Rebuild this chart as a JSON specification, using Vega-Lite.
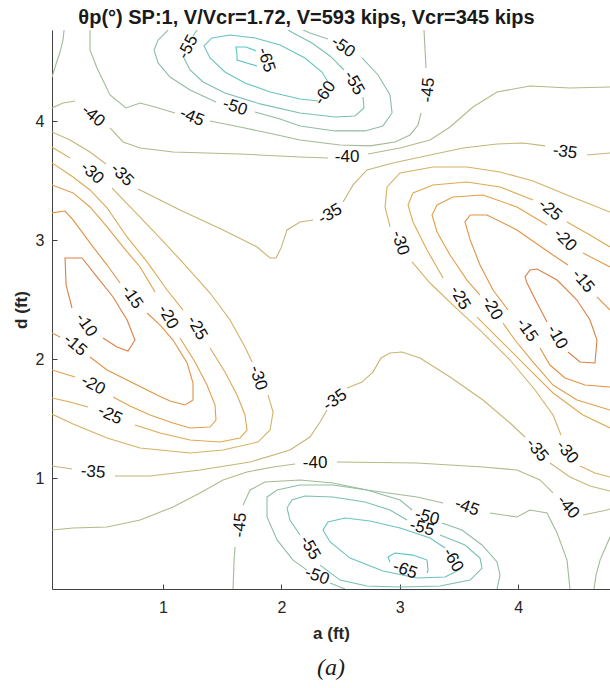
{
"$schema":"https://vega.github.io/schema/vega-lite/v6.json",
"width":558,"height":559,
"autosize":{"type":"none"},
"padding":{"left":52,"top":30,"right":0,"bottom":99},
"background":"white",
"title":{"text":"(a)","orient":"bottom","font":"Liberation Serif","fontStyle":"italic","fontWeight":"normal","fontSize":24,"color":"#1a1a1a","offset":15},
"config":{"view":{"stroke":null},"axis":{"grid":false,"domainColor":"#404040","tickColor":"#404040","labelColor":"#262626","labelFont":"Liberation Sans","labelFontSize":16,"titleFont":"Liberation Sans","titleFontSize":17,"titleFontWeight":"bold","titleColor":"#262626","tickSize":-5}},
"datasets":{
"lines":[
{"s":"c45","l":-45,"o":0,"a":0.063,"d":4.372},{"s":"c45","l":-45,"o":1,"a":0.097,"d":4.481},{"s":"c45","l":-45,"o":2,"a":0.131,"d":4.582},{"s":"c45","l":-45,"o":3,"a":0.156,"d":4.683},{"s":"c45","l":-45,"o":4,"a":0.165,"d":4.767},
{"s":"m45A","l":-45,"o":0,"a":0.384,"d":4.767},{"s":"m45A","l":-45,"o":1,"a":0.384,"d":4.599},{"s":"m45A","l":-45,"o":2,"a":0.443,"d":4.448},{"s":"m45A","l":-45,"o":3,"a":0.553,"d":4.221},{"s":"m45A","l":-45,"o":4,"a":0.688,"d":4.112},{"s":"m45A","l":-45,"o":5,"a":0.807,"d":4.154},{"s":"m45A","l":-45,"o":6,"a":0.933,"d":4.120},{"s":"m45A","l":-45,"o":7,"a":1.102,"d":4.070},
{"s":"m45B","l":-45,"o":0,"a":1.398,"d":4.003},{"s":"m45B","l":-45,"o":1,"a":1.651,"d":3.952},{"s":"m45B","l":-45,"o":2,"a":1.930,"d":3.893},{"s":"m45B","l":-45,"o":3,"a":2.158,"d":3.843},{"s":"m45B","l":-45,"o":4,"a":2.496,"d":3.801},{"s":"m45B","l":-45,"o":5,"a":2.749,"d":3.793},{"s":"m45B","l":-45,"o":6,"a":2.960,"d":3.826},{"s":"m45B","l":-45,"o":7,"a":3.087,"d":3.885},{"s":"m45B","l":-45,"o":8,"a":3.155,"d":3.969},{"s":"m45B","l":-45,"o":9,"a":3.180,"d":4.070},
{"s":"m45C","l":-45,"o":0,"a":3.222,"d":4.448},{"s":"m45C","l":-45,"o":1,"a":3.214,"d":4.599},{"s":"m45C","l":-45,"o":2,"a":3.205,"d":4.767},
{"s":"m50A","l":-50,"o":0,"a":1.043,"d":4.767},{"s":"m50A","l":-50,"o":1,"a":0.959,"d":4.683},{"s":"m50A","l":-50,"o":2,"a":0.925,"d":4.599},{"s":"m50A","l":-50,"o":3,"a":0.959,"d":4.490},{"s":"m50A","l":-50,"o":4,"a":1.060,"d":4.372},{"s":"m50A","l":-50,"o":5,"a":1.229,"d":4.263},{"s":"m50A","l":-50,"o":6,"a":1.448,"d":4.162},
{"s":"m50B","l":-50,"o":0,"a":1.778,"d":4.078},{"s":"m50B","l":-50,"o":1,"a":1.989,"d":4.019},{"s":"m50B","l":-50,"o":2,"a":2.158,"d":3.961},{"s":"m50B","l":-50,"o":3,"a":2.453,"d":3.919},{"s":"m50B","l":-50,"o":4,"a":2.706,"d":3.919},{"s":"m50B","l":-50,"o":5,"a":2.858,"d":3.961},{"s":"m50B","l":-50,"o":6,"a":2.935,"d":4.070},{"s":"m50B","l":-50,"o":7,"a":2.918,"d":4.221},{"s":"m50B","l":-50,"o":8,"a":2.817,"d":4.389},{"s":"m50B","l":-50,"o":9,"a":2.682,"d":4.532},
{"s":"m50C","l":-50,"o":0,"a":2.394,"d":4.692},{"s":"m50C","l":-50,"o":1,"a":2.242,"d":4.742},{"s":"m50C","l":-50,"o":2,"a":2.183,"d":4.767},
{"s":"m55A","l":-55,"o":0,"a":1.288,"d":4.767},{"s":"m55A","l":-55,"o":1,"a":1.254,"d":4.717},
{"s":"m55B","l":-55,"o":0,"a":1.178,"d":4.532},{"s":"m55B","l":-55,"o":1,"a":1.229,"d":4.431},{"s":"m55B","l":-55,"o":2,"a":1.339,"d":4.330},{"s":"m55B","l":-55,"o":3,"a":1.524,"d":4.238},{"s":"m55B","l":-55,"o":4,"a":1.820,"d":4.146},{"s":"m55B","l":-55,"o":5,"a":2.158,"d":4.070},{"s":"m55B","l":-55,"o":6,"a":2.453,"d":4.036},{"s":"m55B","l":-55,"o":7,"a":2.622,"d":4.045},{"s":"m55B","l":-55,"o":8,"a":2.698,"d":4.112},{"s":"m55B","l":-55,"o":9,"a":2.690,"d":4.204},
{"s":"m55C","l":-55,"o":0,"a":2.530,"d":4.431},{"s":"m55C","l":-55,"o":1,"a":2.411,"d":4.549},{"s":"m55C","l":-55,"o":2,"a":2.259,"d":4.658},{"s":"m55C","l":-55,"o":3,"a":2.116,"d":4.734},{"s":"m55C","l":-55,"o":4,"a":2.057,"d":4.767},
{"s":"m60","l":-60,"o":0,"a":2.310,"d":4.171},{"s":"m60","l":-60,"o":1,"a":2.158,"d":4.187},{"s":"m60","l":-60,"o":2,"a":1.905,"d":4.246},{"s":"m60","l":-60,"o":3,"a":1.693,"d":4.322},{"s":"m60","l":-60,"o":4,"a":1.524,"d":4.414},{"s":"m60","l":-60,"o":5,"a":1.398,"d":4.532},{"s":"m60","l":-60,"o":6,"a":1.347,"d":4.633},{"s":"m60","l":-60,"o":7,"a":1.414,"d":4.700},{"s":"m60","l":-60,"o":8,"a":1.567,"d":4.725},{"s":"m60","l":-60,"o":9,"a":1.778,"d":4.700},{"s":"m60","l":-60,"o":10,"a":1.989,"d":4.641},{"s":"m60","l":-60,"o":11,"a":2.200,"d":4.532},{"s":"m60","l":-60,"o":12,"a":2.343,"d":4.414},{"s":"m60","l":-60,"o":13,"a":2.394,"d":4.330},
{"s":"m65","l":-65,"o":0,"a":1.786,"d":4.591},{"s":"m65","l":-65,"o":1,"a":1.702,"d":4.624},{"s":"m65","l":-65,"o":2,"a":1.617,"d":4.624},{"s":"m65","l":-65,"o":3,"a":1.626,"d":4.557},{"s":"m65","l":-65,"o":4,"a":1.626,"d":4.515},{"s":"m65","l":-65,"o":5,"a":1.736,"d":4.482},{"s":"m65","l":-65,"o":6,"a":1.795,"d":4.465},
{"s":"m40A","l":-40,"o":0,"a":0.063,"d":4.112},{"s":"m40A","l":-40,"o":1,"a":0.156,"d":4.154},{"s":"m40A","l":-40,"o":2,"a":0.258,"d":4.171},
{"s":"m40B","l":-40,"o":0,"a":0.553,"d":3.944},{"s":"m40B","l":-40,"o":1,"a":0.663,"d":3.826},{"s":"m40B","l":-40,"o":2,"a":0.807,"d":3.776},{"s":"m40B","l":-40,"o":3,"a":1.085,"d":3.742},{"s":"m40B","l":-40,"o":4,"a":1.651,"d":3.725},{"s":"m40B","l":-40,"o":5,"a":2.158,"d":3.700},{"s":"m40B","l":-40,"o":6,"a":2.394,"d":3.692},
{"s":"m40C","l":-40,"o":0,"a":2.732,"d":3.725},{"s":"m40C","l":-40,"o":1,"a":3.003,"d":3.776},{"s":"m40C","l":-40,"o":2,"a":3.256,"d":3.843},{"s":"m40C","l":-40,"o":3,"a":3.425,"d":3.952},{"s":"m40C","l":-40,"o":4,"a":3.619,"d":4.120},{"s":"m40C","l":-40,"o":5,"a":3.822,"d":4.246},{"s":"m40C","l":-40,"o":6,"a":4.100,"d":4.297},{"s":"m40C","l":-40,"o":7,"a":4.438,"d":4.280},{"s":"m40C","l":-40,"o":8,"a":4.776,"d":4.288},
{"s":"m35A","l":-35,"o":0,"a":0.063,"d":3.910},{"s":"m35A","l":-35,"o":1,"a":0.215,"d":3.843},{"s":"m35A","l":-35,"o":2,"a":0.384,"d":3.742},{"s":"m35A","l":-35,"o":3,"a":0.519,"d":3.641},
{"s":"m35B","l":-35,"o":0,"a":0.790,"d":3.431},{"s":"m35B","l":-35,"o":1,"a":0.976,"d":3.339},{"s":"m35B","l":-35,"o":2,"a":1.144,"d":3.255},{"s":"m35B","l":-35,"o":3,"a":1.508,"d":3.087},{"s":"m35B","l":-35,"o":4,"a":1.795,"d":2.944},{"s":"m35B","l":-35,"o":5,"a":1.905,"d":2.851},{"s":"m35B","l":-35,"o":6,"a":1.955,"d":2.851},{"s":"m35B","l":-35,"o":7,"a":1.998,"d":2.936},{"s":"m35B","l":-35,"o":8,"a":2.048,"d":3.087},{"s":"m35B","l":-35,"o":9,"a":2.158,"d":3.154},{"s":"m35B","l":-35,"o":10,"a":2.268,"d":3.171},
{"s":"m35C","l":-35,"o":0,"a":2.521,"d":3.322},{"s":"m35C","l":-35,"o":1,"a":2.606,"d":3.465},{"s":"m35C","l":-35,"o":2,"a":2.723,"d":3.591},{"s":"m35C","l":-35,"o":3,"a":2.943,"d":3.650},{"s":"m35C","l":-35,"o":4,"a":3.256,"d":3.717},{"s":"m35C","l":-35,"o":5,"a":3.535,"d":3.776},{"s":"m35C","l":-35,"o":6,"a":3.822,"d":3.809},{"s":"m35C","l":-35,"o":7,"a":4.041,"d":3.818},{"s":"m35C","l":-35,"o":8,"a":4.227,"d":3.793},
{"s":"m35D","l":-35,"o":0,"a":4.582,"d":3.717},{"s":"m35D","l":-35,"o":1,"a":4.776,"d":3.734},
{"s":"L10","l":-10,"o":0,"a":0.232,"d":2.431},{"s":"L10","l":-10,"o":1,"a":0.182,"d":2.624},{"s":"L10","l":-10,"o":2,"a":0.173,"d":2.851},{"s":"L10","l":-10,"o":3,"a":0.317,"d":2.851},{"s":"L10","l":-10,"o":4,"a":0.443,"d":2.692},{"s":"L10","l":-10,"o":5,"a":0.579,"d":2.524},{"s":"L10","l":-10,"o":6,"a":0.697,"d":2.330},{"s":"L10","l":-10,"o":7,"a":0.764,"d":2.162},{"s":"L10","l":-10,"o":8,"a":0.705,"d":2.070},{"s":"L10","l":-10,"o":9,"a":0.612,"d":2.103},{"s":"L10","l":-10,"o":10,"a":0.494,"d":2.179},
{"s":"L15A","l":-15,"o":0,"a":0.063,"d":3.230},{"s":"L15A","l":-15,"o":1,"a":0.173,"d":3.246},{"s":"L15A","l":-15,"o":2,"a":0.241,"d":3.171},{"s":"L15A","l":-15,"o":3,"a":0.384,"d":2.978},{"s":"L15A","l":-15,"o":4,"a":0.528,"d":2.792},{"s":"L15A","l":-15,"o":5,"a":0.638,"d":2.641},
{"s":"L15B","l":-15,"o":0,"a":0.866,"d":2.389},{"s":"L15B","l":-15,"o":1,"a":0.976,"d":2.288},{"s":"L15B","l":-15,"o":2,"a":1.085,"d":2.162},{"s":"L15B","l":-15,"o":3,"a":1.204,"d":1.969},{"s":"L15B","l":-15,"o":4,"a":1.254,"d":1.801},{"s":"L15B","l":-15,"o":5,"a":1.254,"d":1.658},{"s":"L15B","l":-15,"o":6,"a":1.187,"d":1.616},{"s":"L15B","l":-15,"o":7,"a":1.060,"d":1.650},{"s":"L15B","l":-15,"o":8,"a":0.950,"d":1.700},{"s":"L15B","l":-15,"o":9,"a":0.747,"d":1.801},{"s":"L15B","l":-15,"o":10,"a":0.528,"d":1.910},{"s":"L15B","l":-15,"o":11,"a":0.384,"d":2.019},
{"s":"L15C","l":-15,"o":0,"a":0.131,"d":2.187},{"s":"L15C","l":-15,"o":1,"a":0.063,"d":2.221},
{"s":"L20A","l":-20,"o":0,"a":0.063,"d":3.465},{"s":"L20A","l":-20,"o":1,"a":0.241,"d":3.398},{"s":"L20A","l":-20,"o":2,"a":0.384,"d":3.280},{"s":"L20A","l":-20,"o":3,"a":0.528,"d":3.112},{"s":"L20A","l":-20,"o":4,"a":0.663,"d":2.944},{"s":"L20A","l":-20,"o":5,"a":0.807,"d":2.776},{"s":"L20A","l":-20,"o":6,"a":0.933,"d":2.566},
{"s":"L20B","l":-20,"o":0,"a":1.144,"d":2.179},{"s":"L20B","l":-20,"o":1,"a":1.271,"d":1.977},{"s":"L20B","l":-20,"o":2,"a":1.372,"d":1.784},{"s":"L20B","l":-20,"o":3,"a":1.440,"d":1.616},{"s":"L20B","l":-20,"o":4,"a":1.448,"d":1.490},{"s":"L20B","l":-20,"o":5,"a":1.398,"d":1.431},{"s":"L20B","l":-20,"o":6,"a":1.229,"d":1.423},{"s":"L20B","l":-20,"o":7,"a":1.085,"d":1.465},{"s":"L20B","l":-20,"o":8,"a":0.891,"d":1.532},{"s":"L20B","l":-20,"o":9,"a":0.722,"d":1.608},{"s":"L20B","l":-20,"o":10,"a":0.579,"d":1.683},
{"s":"L20C","l":-20,"o":0,"a":0.258,"d":1.851},{"s":"L20C","l":-20,"o":1,"a":0.063,"d":1.910},
{"s":"L25A","l":-25,"o":0,"a":0.063,"d":3.650},{"s":"L25A","l":-25,"o":1,"a":0.241,"d":3.532},{"s":"L25A","l":-25,"o":2,"a":0.384,"d":3.423},{"s":"L25A","l":-25,"o":3,"a":0.528,"d":3.272},{"s":"L25A","l":-25,"o":4,"a":0.697,"d":3.028},{"s":"L25A","l":-25,"o":5,"a":0.866,"d":2.818},{"s":"L25A","l":-25,"o":6,"a":1.035,"d":2.582},{"s":"L25A","l":-25,"o":7,"a":1.170,"d":2.414},
{"s":"L25B","l":-25,"o":0,"a":1.398,"d":2.095},{"s":"L25B","l":-25,"o":1,"a":1.524,"d":1.893},{"s":"L25B","l":-25,"o":2,"a":1.626,"d":1.700},{"s":"L25B","l":-25,"o":3,"a":1.693,"d":1.532},{"s":"L25B","l":-25,"o":4,"a":1.710,"d":1.406},{"s":"L25B","l":-25,"o":5,"a":1.651,"d":1.339},{"s":"L25B","l":-25,"o":6,"a":1.482,"d":1.305},{"s":"L25B","l":-25,"o":7,"a":1.229,"d":1.322},{"s":"L25B","l":-25,"o":8,"a":0.976,"d":1.381},{"s":"L25B","l":-25,"o":9,"a":0.764,"d":1.448},
{"s":"L25C","l":-25,"o":0,"a":0.367,"d":1.599},{"s":"L25C","l":-25,"o":1,"a":0.215,"d":1.641},{"s":"L25C","l":-25,"o":2,"a":0.063,"d":1.675},
{"s":"L30A","l":-30,"o":0,"a":0.063,"d":3.784},{"s":"L30A","l":-30,"o":1,"a":0.215,"d":3.692},
{"s":"L30B","l":-30,"o":0,"a":0.570,"d":3.439},{"s":"L30B","l":-30,"o":1,"a":0.764,"d":3.238},{"s":"L30B","l":-30,"o":2,"a":0.976,"d":3.019},{"s":"L30B","l":-30,"o":3,"a":1.187,"d":2.792},{"s":"L30B","l":-30,"o":4,"a":1.398,"d":2.557},{"s":"L30B","l":-30,"o":5,"a":1.567,"d":2.330},{"s":"L30B","l":-30,"o":6,"a":1.693,"d":2.103},{"s":"L30B","l":-30,"o":7,"a":1.753,"d":1.977},
{"s":"L30C","l":-30,"o":0,"a":1.888,"d":1.700},{"s":"L30C","l":-30,"o":1,"a":1.930,"d":1.557},{"s":"L30C","l":-30,"o":2,"a":1.905,"d":1.406},{"s":"L30C","l":-30,"o":3,"a":1.803,"d":1.305},{"s":"L30C","l":-30,"o":4,"a":1.508,"d":1.238},{"s":"L30C","l":-30,"o":5,"a":1.229,"d":1.213},{"s":"L30C","l":-30,"o":6,"a":0.807,"d":1.255},{"s":"L30C","l":-30,"o":7,"a":0.528,"d":1.339},{"s":"L30C","l":-30,"o":8,"a":0.241,"d":1.456},{"s":"L30C","l":-30,"o":9,"a":0.063,"d":1.540},
{"s":"n35A","l":-35,"o":0,"a":0.063,"d":1.103},{"s":"n35A","l":-35,"o":1,"a":0.232,"d":1.078},
{"s":"n35B","l":-35,"o":0,"a":0.595,"d":1.019},{"s":"n35B","l":-35,"o":1,"a":0.891,"d":1.019},{"s":"n35B","l":-35,"o":2,"a":1.313,"d":1.070},{"s":"n35B","l":-35,"o":3,"a":1.736,"d":1.137},{"s":"n35B","l":-35,"o":4,"a":2.073,"d":1.238},{"s":"n35B","l":-35,"o":5,"a":2.242,"d":1.347},{"s":"n35B","l":-35,"o":6,"a":2.327,"d":1.473},{"s":"n35B","l":-35,"o":7,"a":2.386,"d":1.574},
{"s":"n35C","l":-35,"o":0,"a":2.555,"d":1.759},{"s":"n35C","l":-35,"o":1,"a":2.682,"d":1.809},{"s":"n35C","l":-35,"o":2,"a":2.774,"d":1.893},{"s":"n35C","l":-35,"o":3,"a":2.842,"d":2.011},{"s":"n35C","l":-35,"o":4,"a":2.918,"d":2.053},{"s":"n35C","l":-35,"o":5,"a":3.019,"d":2.061},{"s":"n35C","l":-35,"o":6,"a":3.171,"d":2.011},{"s":"n35C","l":-35,"o":7,"a":3.425,"d":1.851},{"s":"n35C","l":-35,"o":8,"a":3.703,"d":1.658},{"s":"n35C","l":-35,"o":9,"a":3.932,"d":1.465},{"s":"n35C","l":-35,"o":10,"a":4.058,"d":1.347},
{"s":"n35D","l":-35,"o":0,"a":4.269,"d":1.129},{"s":"n35D","l":-35,"o":1,"a":4.438,"d":1.011},{"s":"n35D","l":-35,"o":2,"a":4.607,"d":0.935},{"s":"n35D","l":-35,"o":3,"a":4.776,"d":0.893},
{"s":"n40A","l":-40,"o":0,"a":0.063,"d":0.566},{"s":"n40A","l":-40,"o":1,"a":0.241,"d":0.582},{"s":"n40A","l":-40,"o":2,"a":0.528,"d":0.591},{"s":"n40A","l":-40,"o":3,"a":0.807,"d":0.650},{"s":"n40A","l":-40,"o":4,"a":1.085,"d":0.759},{"s":"n40A","l":-40,"o":5,"a":1.313,"d":0.877},{"s":"n40A","l":-40,"o":6,"a":1.508,"d":0.986},{"s":"n40A","l":-40,"o":7,"a":1.710,"d":1.053},{"s":"n40A","l":-40,"o":8,"a":1.930,"d":1.095},{"s":"n40A","l":-40,"o":9,"a":2.116,"d":1.120},
{"s":"n40B","l":-40,"o":0,"a":2.470,"d":1.137},{"s":"n40B","l":-40,"o":1,"a":3.146,"d":1.129},{"s":"n40B","l":-40,"o":2,"a":3.703,"d":1.095},{"s":"n40B","l":-40,"o":3,"a":3.990,"d":1.070},{"s":"n40B","l":-40,"o":4,"a":4.185,"d":0.986},{"s":"n40B","l":-40,"o":5,"a":4.295,"d":0.877},
{"s":"n40C","l":-40,"o":0,"a":4.548,"d":0.692},{"s":"n40C","l":-40,"o":1,"a":4.751,"d":0.734},{"s":"n40C","l":-40,"o":2,"a":4.776,"d":0.742},
{"s":"n45A","l":-45,"o":0,"a":1.592,"d":0.070},{"s":"n45A","l":-45,"o":1,"a":1.601,"d":0.313},{"s":"n45A","l":-45,"o":2,"a":1.609,"d":0.423},
{"s":"n45B","l":-45,"o":0,"a":1.677,"d":0.776},{"s":"n45B","l":-45,"o":1,"a":1.736,"d":0.902},{"s":"n45B","l":-45,"o":2,"a":1.862,"d":0.969},{"s":"n45B","l":-45,"o":3,"a":2.158,"d":0.986},{"s":"n45B","l":-45,"o":4,"a":2.437,"d":0.961},{"s":"n45B","l":-45,"o":5,"a":2.723,"d":0.902},{"s":"n45B","l":-45,"o":6,"a":3.146,"d":0.843},{"s":"n45B","l":-45,"o":7,"a":3.366,"d":0.793},
{"s":"n45C","l":-45,"o":0,"a":3.762,"d":0.709},{"s":"n45C","l":-45,"o":1,"a":3.990,"d":0.675},{"s":"n45C","l":-45,"o":2,"a":4.100,"d":0.734},{"s":"n45C","l":-45,"o":3,"a":4.244,"d":0.709},{"s":"n45C","l":-45,"o":4,"a":4.329,"d":0.541},{"s":"n45C","l":-45,"o":5,"a":4.413,"d":0.313},{"s":"n45C","l":-45,"o":6,"a":4.438,"d":0.070},
{"s":"d45","l":-45,"o":0,"a":4.776,"d":0.507},{"s":"d45","l":-45,"o":1,"a":4.692,"d":0.313},{"s":"d45","l":-45,"o":2,"a":4.658,"d":0.187},{"s":"d45","l":-45,"o":3,"a":4.641,"d":0.070},
{"s":"b65","l":-65,"o":0,"a":2.918,"d":0.297},{"s":"b65","l":-65,"o":1,"a":2.901,"d":0.339},{"s":"b65","l":-65,"o":2,"a":2.960,"d":0.372},{"s":"b65","l":-65,"o":3,"a":3.112,"d":0.355},{"s":"b65","l":-65,"o":4,"a":3.231,"d":0.313},{"s":"b65","l":-65,"o":5,"a":3.239,"d":0.229},{"s":"b65","l":-65,"o":6,"a":3.231,"d":0.204},
{"s":"b60","l":-60,"o":0,"a":3.484,"d":0.221},{"s":"b60","l":-60,"o":1,"a":3.383,"d":0.171},{"s":"b60","l":-60,"o":2,"a":3.146,"d":0.162},{"s":"b60","l":-60,"o":3,"a":2.859,"d":0.221},{"s":"b60","l":-60,"o":4,"a":2.580,"d":0.330},{"s":"b60","l":-60,"o":5,"a":2.412,"d":0.465},{"s":"b60","l":-60,"o":6,"a":2.352,"d":0.566},{"s":"b60","l":-60,"o":7,"a":2.394,"d":0.633},{"s":"b60","l":-60,"o":8,"a":2.538,"d":0.666},{"s":"b60","l":-60,"o":9,"a":2.749,"d":0.641},{"s":"b60","l":-60,"o":10,"a":3.003,"d":0.582},{"s":"b60","l":-60,"o":11,"a":3.256,"d":0.498},{"s":"b60","l":-60,"o":12,"a":3.383,"d":0.414},
{"s":"b55A","l":-55,"o":0,"a":2.158,"d":0.524},{"s":"b55A","l":-55,"o":1,"a":2.073,"d":0.650},{"s":"b55A","l":-55,"o":2,"a":2.048,"d":0.750},{"s":"b55A","l":-55,"o":3,"a":2.090,"d":0.818},{"s":"b55A","l":-55,"o":4,"a":2.200,"d":0.851},{"s":"b55A","l":-55,"o":5,"a":2.437,"d":0.843},{"s":"b55A","l":-55,"o":6,"a":2.706,"d":0.801},{"s":"b55A","l":-55,"o":7,"a":2.918,"d":0.734},{"s":"b55A","l":-55,"o":8,"a":3.062,"d":0.650},
{"s":"b55B","l":-55,"o":0,"a":3.340,"d":0.524},{"s":"b55B","l":-55,"o":1,"a":3.551,"d":0.440},{"s":"b55B","l":-55,"o":2,"a":3.678,"d":0.330},{"s":"b55B","l":-55,"o":3,"a":3.695,"d":0.246},{"s":"b55B","l":-55,"o":4,"a":3.595,"d":0.145},{"s":"b55B","l":-55,"o":5,"a":3.340,"d":0.095},{"s":"b55B","l":-55,"o":6,"a":3.003,"d":0.087},{"s":"b55B","l":-55,"o":7,"a":2.723,"d":0.095},{"s":"b55B","l":-55,"o":8,"a":2.496,"d":0.145},{"s":"b55B","l":-55,"o":9,"a":2.327,"d":0.271},
{"s":"b50A","l":-50,"o":0,"a":2.217,"d":0.229},{"s":"b50A","l":-50,"o":1,"a":2.099,"d":0.313},{"s":"b50A","l":-50,"o":2,"a":1.964,"d":0.482},{"s":"b50A","l":-50,"o":3,"a":1.879,"d":0.675},{"s":"b50A","l":-50,"o":4,"a":1.879,"d":0.843},{"s":"b50A","l":-50,"o":5,"a":1.964,"d":0.902},{"s":"b50A","l":-50,"o":6,"a":2.158,"d":0.944},{"s":"b50A","l":-50,"o":7,"a":2.437,"d":0.944},{"s":"b50A","l":-50,"o":8,"a":2.723,"d":0.902},{"s":"b50A","l":-50,"o":9,"a":3.003,"d":0.818},{"s":"b50A","l":-50,"o":10,"a":3.104,"d":0.734},
{"s":"b50B","l":-50,"o":0,"a":3.357,"d":0.624},{"s":"b50B","l":-50,"o":1,"a":3.526,"d":0.566},{"s":"b50B","l":-50,"o":2,"a":3.695,"d":0.440},{"s":"b50B","l":-50,"o":3,"a":3.822,"d":0.297},{"s":"b50B","l":-50,"o":4,"a":3.847,"d":0.187},{"s":"b50B","l":-50,"o":5,"a":3.822,"d":0.070},
{"s":"b50C","l":-50,"o":0,"a":2.412,"d":0.120},{"s":"b50C","l":-50,"o":1,"a":2.538,"d":0.070},
{"s":"R10","l":-10,"o":0,"a":4.244,"d":2.313},{"s":"R10","l":-10,"o":1,"a":4.160,"d":2.473},{"s":"R10","l":-10,"o":2,"a":4.075,"d":2.641},{"s":"R10","l":-10,"o":3,"a":4.058,"d":2.692},{"s":"R10","l":-10,"o":4,"a":4.100,"d":2.751},{"s":"R10","l":-10,"o":5,"a":4.160,"d":2.759},{"s":"R10","l":-10,"o":6,"a":4.329,"d":2.666},{"s":"R10","l":-10,"o":7,"a":4.497,"d":2.498},{"s":"R10","l":-10,"o":8,"a":4.607,"d":2.330},{"s":"R10","l":-10,"o":9,"a":4.666,"d":2.162},{"s":"R10","l":-10,"o":10,"a":4.649,"d":1.969},{"s":"R10","l":-10,"o":11,"a":4.523,"d":1.977},{"s":"R10","l":-10,"o":12,"a":4.421,"d":2.061},
{"s":"R15A","l":-15,"o":0,"a":4.776,"d":2.414},{"s":"R15A","l":-15,"o":1,"a":4.666,"d":2.524},
{"s":"R15B","l":-15,"o":0,"a":4.421,"d":2.792},{"s":"R15B","l":-15,"o":1,"a":4.269,"d":2.893},{"s":"R15B","l":-15,"o":2,"a":3.990,"d":3.087},{"s":"R15B","l":-15,"o":3,"a":3.737,"d":3.213},{"s":"R15B","l":-15,"o":4,"a":3.595,"d":3.213},{"s":"R15B","l":-15,"o":5,"a":3.551,"d":3.154},{"s":"R15B","l":-15,"o":6,"a":3.595,"d":3.003},{"s":"R15B","l":-15,"o":7,"a":3.678,"d":2.792},{"s":"R15B","l":-15,"o":8,"a":3.788,"d":2.582},{"s":"R15B","l":-15,"o":9,"a":3.915,"d":2.414},
{"s":"R15C","l":-15,"o":0,"a":4.185,"d":2.095},{"s":"R15C","l":-15,"o":1,"a":4.269,"d":1.952},{"s":"R15C","l":-15,"o":2,"a":4.396,"d":1.843},{"s":"R15C","l":-15,"o":3,"a":4.565,"d":1.784},{"s":"R15C","l":-15,"o":4,"a":4.776,"d":1.767},
{"s":"R20A","l":-20,"o":0,"a":4.776,"d":2.776},{"s":"R20A","l":-20,"o":1,"a":4.548,"d":2.893},
{"s":"R20B","l":-20,"o":0,"a":4.244,"d":3.129},{"s":"R20B","l":-20,"o":1,"a":3.990,"d":3.280},{"s":"R20B","l":-20,"o":2,"a":3.703,"d":3.381},{"s":"R20B","l":-20,"o":3,"a":3.450,"d":3.364},{"s":"R20B","l":-20,"o":4,"a":3.315,"d":3.297},{"s":"R20B","l":-20,"o":5,"a":3.273,"d":3.213},{"s":"R20B","l":-20,"o":6,"a":3.315,"d":3.070},{"s":"R20B","l":-20,"o":7,"a":3.425,"d":2.876},{"s":"R20B","l":-20,"o":8,"a":3.568,"d":2.666},{"s":"R20B","l":-20,"o":9,"a":3.678,"d":2.540},
{"s":"R20C","l":-20,"o":0,"a":3.872,"d":2.305},{"s":"R20C","l":-20,"o":1,"a":3.973,"d":2.162},{"s":"R20C","l":-20,"o":2,"a":4.126,"d":1.977},{"s":"R20C","l":-20,"o":3,"a":4.295,"d":1.784},{"s":"R20C","l":-20,"o":4,"a":4.497,"d":1.658},{"s":"R20C","l":-20,"o":5,"a":4.776,"d":1.574},
{"s":"R25A","l":-25,"o":0,"a":4.776,"d":2.944},{"s":"R25A","l":-25,"o":1,"a":4.607,"d":3.045},{"s":"R25A","l":-25,"o":2,"a":4.413,"d":3.154},
{"s":"R25B","l":-25,"o":0,"a":4.126,"d":3.339},{"s":"R25B","l":-25,"o":1,"a":3.847,"d":3.448},{"s":"R25B","l":-25,"o":2,"a":3.568,"d":3.490},{"s":"R25B","l":-25,"o":3,"a":3.281,"d":3.465},{"s":"R25B","l":-25,"o":4,"a":3.112,"d":3.398},{"s":"R25B","l":-25,"o":5,"a":3.070,"d":3.297},{"s":"R25B","l":-25,"o":6,"a":3.112,"d":3.154},{"s":"R25B","l":-25,"o":7,"a":3.231,"d":2.919},{"s":"R25B","l":-25,"o":8,"a":3.366,"d":2.683},
{"s":"R25C","l":-25,"o":0,"a":3.653,"d":2.355},{"s":"R25C","l":-25,"o":1,"a":3.847,"d":2.162},{"s":"R25C","l":-25,"o":2,"a":4.075,"d":1.935},{"s":"R25C","l":-25,"o":3,"a":4.295,"d":1.717},{"s":"R25C","l":-25,"o":4,"a":4.548,"d":1.532},{"s":"R25C","l":-25,"o":5,"a":4.776,"d":1.423},
{"s":"R30A","l":-30,"o":0,"a":4.776,"d":3.238},{"s":"R30A","l":-30,"o":1,"a":4.413,"d":3.381},{"s":"R30A","l":-30,"o":2,"a":4.126,"d":3.498},{"s":"R30A","l":-30,"o":3,"a":3.847,"d":3.574},{"s":"R30A","l":-30,"o":4,"a":3.568,"d":3.616},{"s":"R30A","l":-30,"o":5,"a":3.281,"d":3.616},{"s":"R30A","l":-30,"o":6,"a":3.003,"d":3.566},{"s":"R30A","l":-30,"o":7,"a":2.893,"d":3.448},{"s":"R30A","l":-30,"o":8,"a":2.876,"d":3.280},{"s":"R30A","l":-30,"o":9,"a":2.918,"d":3.112},
{"s":"R30B","l":-30,"o":0,"a":3.104,"d":2.818},{"s":"R30B","l":-30,"o":1,"a":3.256,"d":2.641},{"s":"R30B","l":-30,"o":2,"a":3.450,"d":2.456},{"s":"R30B","l":-30,"o":3,"a":3.678,"d":2.246},{"s":"R30B","l":-30,"o":4,"a":3.932,"d":1.994},{"s":"R30B","l":-30,"o":5,"a":4.143,"d":1.742},{"s":"R30B","l":-30,"o":6,"a":4.295,"d":1.532},{"s":"R30B","l":-30,"o":7,"a":4.362,"d":1.364},
{"s":"R30C","l":-30,"o":0,"a":4.523,"d":1.103},{"s":"R30C","l":-30,"o":1,"a":4.649,"d":1.045},{"s":"R30C","l":-30,"o":2,"a":4.776,"d":1.011}
],
"labels":[
{"t":"-45","a":1.246,"d":4.036,"r":22},{"t":"-45","a":3.239,"d":4.263,"r":-85},
{"t":"-50","a":1.609,"d":4.120,"r":18},{"t":"-50","a":2.521,"d":4.624,"r":35},
{"t":"-55","a":1.212,"d":4.624,"r":-62},{"t":"-55","a":2.614,"d":4.322,"r":60},
{"t":"-60","a":2.369,"d":4.238,"r":-55},{"t":"-65","a":1.871,"d":4.515,"r":72},
{"t":"-40","a":0.410,"d":4.045,"r":40},{"t":"-40","a":2.555,"d":3.700,"r":0},
{"t":"-35","a":0.655,"d":3.549,"r":45},{"t":"-35","a":2.412,"d":3.221,"r":-30},{"t":"-35","a":4.396,"d":3.742,"r":8},
{"t":"-10","a":0.351,"d":2.288,"r":55},
{"t":"-15","a":0.739,"d":2.524,"r":55},{"t":"-15","a":0.258,"d":2.120,"r":40},
{"t":"-20","a":1.043,"d":2.355,"r":60},{"t":"-20","a":0.410,"d":1.784,"r":28},
{"t":"-25","a":1.288,"d":2.263,"r":60},{"t":"-25","a":0.553,"d":1.532,"r":25},
{"t":"-30","a":0.401,"d":3.566,"r":42},{"t":"-30","a":1.803,"d":1.843,"r":72},
{"t":"-35","a":0.410,"d":1.053,"r":5},{"t":"-35","a":2.453,"d":1.658,"r":-35},{"t":"-35","a":4.160,"d":1.238,"r":50},
{"t":"-40","a":2.285,"d":1.129,"r":0},{"t":"-40","a":4.421,"d":0.759,"r":50},
{"t":"-45","a":1.651,"d":0.608,"r":-85},{"t":"-45","a":3.568,"d":0.759,"r":20},
{"t":"-65","a":3.045,"d":0.229,"r":20},{"t":"-60","a":3.450,"d":0.313,"r":60},
{"t":"-55","a":2.242,"d":0.416,"r":60},{"t":"-55","a":3.188,"d":0.583,"r":15},
{"t":"-50","a":2.301,"d":0.179,"r":20},{"t":"-50","a":3.231,"d":0.675,"r":15},
{"t":"-10","a":4.329,"d":2.187,"r":60},
{"t":"-15","a":4.548,"d":2.658,"r":50},{"t":"-15","a":4.075,"d":2.246,"r":55},
{"t":"-20","a":4.396,"d":3.003,"r":45},{"t":"-20","a":3.780,"d":2.431,"r":60},
{"t":"-25","a":4.269,"d":3.255,"r":40},{"t":"-25","a":3.509,"d":2.516,"r":60},
{"t":"-30","a":3.003,"d":2.978,"r":72},{"t":"-30","a":4.413,"d":1.221,"r":50}
]},
"layer":[
{"data":{"name":"lines"},
 "mark":{"type":"line","strokeWidth":1.1,"clip":true},
 "encoding":{
  "x":{"field":"a","type":"quantitative","scale":{"domain":[0.063,4.776],"nice":false,"zero":false},
       "axis":{"orient":"bottom","values":[1,2,3,4],"format":"d","title":"a (ft)","labelPadding":15,"titlePadding":10}},
  "y":{"field":"d","type":"quantitative","scale":{"domain":[0.07,4.767],"nice":false,"zero":false},
       "axis":{"values":[1,2,3,4],"format":"d","title":"d (ft)","labelPadding":13,"titlePadding":5}},
  "detail":{"field":"s"},
  "order":{"field":"o","type":"quantitative"},
  "color":{"field":"l","type":"ordinal","legend":null,
    "scale":{"domain":[-65,-60,-55,-50,-45,-40,-35,-30,-25,-20,-15,-10],
             "range":["#56c5c9","#69c2bf","#7cbfb2","#8fbda4","#a1bb96","#b3b987","#c4b676","#d3b263","#dcaa52","#e29f48","#e29244","#da8046"]}}}},
{"data":{"name":"labels"},
 "mark":{"type":"text","font":"Liberation Sans","fontSize":17,"color":"#111111","align":"center","baseline":"middle"},
 "encoding":{
  "x":{"field":"a","type":"quantitative",
       "axis":{"orient":"top","labels":false,"ticks":false,"domain":false,"title":"θp(°) SP:1, V/Vcr=1.72, V=593 kips, Vcr=345 kips","titleFontSize":20,"titleColor":"#1a1a1a","titlePadding":3,"titleX":254}},
  "y":{"field":"d","type":"quantitative"},
  "text":{"field":"t"},
  "angle":{"field":"r","type":"quantitative","scale":null}}}
],
"resolve":{"axis":{"x":"independent"}}
}
